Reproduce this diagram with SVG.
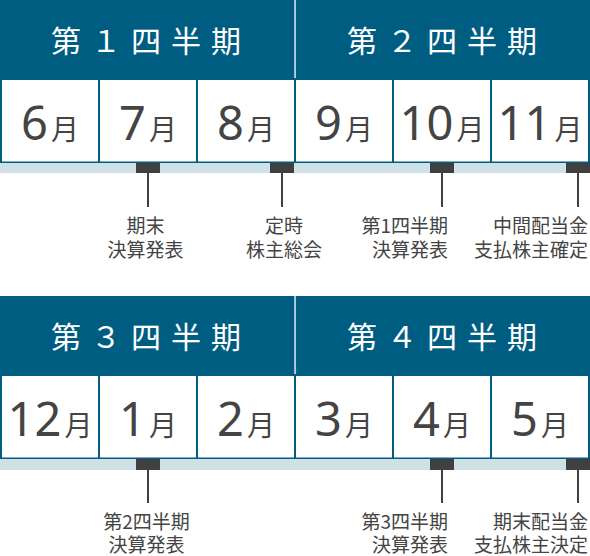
<svg xmlns="http://www.w3.org/2000/svg" width="590" height="556" viewBox="0 0 590 556">
<style>
.hdr{fill:#005d82}
.sep{fill:#ffffff}
.cell{fill:#ffffff}
.bar{fill:#cfe0e7}
.mk{fill:#404040}
.qt{font-family:"Noto Sans CJK JP","Noto Sans",sans-serif;font-size:30px;fill:#ffffff;letter-spacing:10px}
.mo{font-family:"Noto Sans","Noto Sans CJK JP",sans-serif;fill:#444444;text-anchor:middle}
.d{font-size:47px}
.m{font-family:"Noto Sans CJK JP",sans-serif;font-size:28px}
.lb{font-family:"Noto Sans CJK JP","Noto Sans",sans-serif;font-size:19px;fill:#444444}
.c{text-anchor:middle}
.r{text-anchor:end}
.ln{stroke:#404040;stroke-width:2;fill:none}
</style>

<g id="block1">
<rect class="hdr" x="0" y="0" width="590" height="163"/>
<rect class="bar" x="0" y="163" width="590" height="10"/>
</g>
<g id="block2">
<rect class="hdr" x="0" y="296" width="590" height="163"/>
<rect class="bar" x="0" y="459" width="590" height="11"/>
</g>

<g id="q1"><text class="qt" x="51" y="52">第１四半期</text></g>
<rect class="sep" x="294.4" y="0" width="1.3" height="78"/>
<g id="q2"><text class="qt" x="347" y="52">第２四半期</text></g>

<g id="q3"><text class="qt" x="51" y="348">第３四半期</text></g>
<rect class="sep" x="294.4" y="296" width="1.3" height="78"/>
<g id="q4"><text class="qt" x="347" y="348">第４四半期</text></g>

<g id="m6"><rect class="cell" x="2" y="80" width="96" height="81.5"/><text class="mo" x="50" y="140"><tspan class="d">6</tspan><tspan class="m" dx="3">月</tspan></text></g>
<g id="m7"><rect class="cell" x="100" y="80" width="96" height="81.5"/><text class="mo" x="148" y="140"><tspan class="d">7</tspan><tspan class="m" dx="3">月</tspan></text></g>
<g id="m8"><rect class="cell" x="198" y="80" width="96" height="81.5"/><text class="mo" x="246" y="140"><tspan class="d">8</tspan><tspan class="m" dx="3">月</tspan></text></g>
<g id="m9"><rect class="cell" x="296" y="80" width="96" height="81.5"/><text class="mo" x="344" y="140"><tspan class="d">9</tspan><tspan class="m" dx="3">月</tspan></text></g>
<g id="m10"><rect class="cell" x="394" y="80" width="96" height="81.5"/><text class="mo" x="442" y="140"><tspan class="d">10</tspan><tspan class="m" dx="3">月</tspan></text></g>
<g id="m11"><rect class="cell" x="492" y="80" width="96" height="81.5"/><text class="mo" x="540" y="140"><tspan class="d">11</tspan><tspan class="m" dx="3">月</tspan></text></g>

<g id="m12"><rect class="cell" x="2" y="376" width="96" height="81.5"/><text class="mo" x="50" y="436"><tspan class="d">12</tspan><tspan class="m" dx="3">月</tspan></text></g>
<g id="m1"><rect class="cell" x="100" y="376" width="96" height="81.5"/><text class="mo" x="148" y="436"><tspan class="d">1</tspan><tspan class="m" dx="3">月</tspan></text></g>
<g id="m2"><rect class="cell" x="198" y="376" width="96" height="81.5"/><text class="mo" x="246" y="436"><tspan class="d">2</tspan><tspan class="m" dx="3">月</tspan></text></g>
<g id="m3"><rect class="cell" x="296" y="376" width="96" height="81.5"/><text class="mo" x="344" y="436"><tspan class="d">3</tspan><tspan class="m" dx="3">月</tspan></text></g>
<g id="m4"><rect class="cell" x="394" y="376" width="96" height="81.5"/><text class="mo" x="442" y="436"><tspan class="d">4</tspan><tspan class="m" dx="3">月</tspan></text></g>
<g id="m5"><rect class="cell" x="492" y="376" width="96" height="81.5"/><text class="mo" x="540" y="436"><tspan class="d">5</tspan><tspan class="m" dx="3">月</tspan></text></g>

<g id="connectors">
<rect class="mk" x="136" y="163" width="24" height="10"/>
<line class="ln" x1="148" y1="173" x2="148" y2="207"/>
<rect class="mk" x="270" y="163" width="24" height="10"/>
<line class="ln" x1="282" y1="173" x2="282" y2="207"/>
<rect class="mk" x="430" y="163" width="24" height="10"/>
<line class="ln" x1="442" y1="173" x2="442" y2="207"/>
<rect class="mk" x="566" y="163" width="24" height="10"/>
<line class="ln" x1="578" y1="173" x2="578" y2="207"/>

<rect class="mk" x="136" y="459" width="24" height="11"/>
<line class="ln" x1="148" y1="470" x2="148" y2="503"/>
<rect class="mk" x="430" y="459" width="24" height="11"/>
<line class="ln" x1="442" y1="470" x2="442" y2="503"/>
<rect class="mk" x="566" y="459" width="24" height="11"/>
<line class="ln" x1="578" y1="470" x2="578" y2="503"/>
</g>

<g id="lbl-kimatsu"><text class="lb c" x="145.5" y="233">期末</text><text class="lb c" x="145.5" y="257">決算発表</text></g>
<g id="lbl-teiji"><text class="lb c" x="284" y="233">定時</text><text class="lb c" x="284" y="257">株主総会</text></g>
<g id="lbl-q1"><text class="lb r" x="448" y="233">第1四半期</text><text class="lb r" x="448" y="257">決算発表</text></g>
<g id="lbl-chukan"><text class="lb r" x="588" y="233">中間配当金</text><text class="lb r" x="588" y="257">支払株主確定</text></g>

<g id="lbl-q2"><text class="lb c" x="146.5" y="529">第2四半期</text><text class="lb c" x="146.5" y="552">決算発表</text></g>
<g id="lbl-q3"><text class="lb r" x="448" y="529">第3四半期</text><text class="lb r" x="448" y="552">決算発表</text></g>
<g id="lbl-kimatsuhaito"><text class="lb r" x="588" y="529">期末配当金</text><text class="lb r" x="588" y="552">支払株主決定</text></g>
</svg>
